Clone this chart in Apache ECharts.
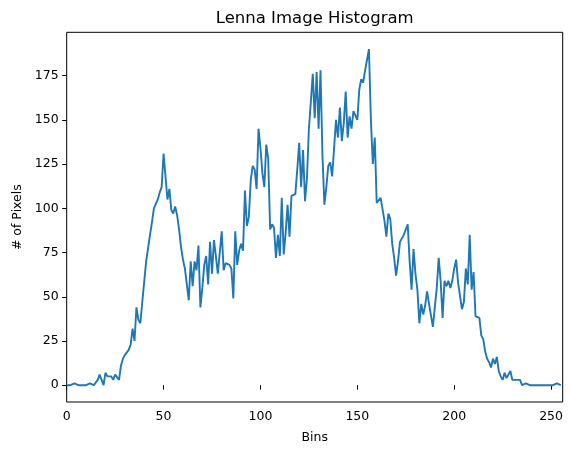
<!DOCTYPE html>
<html>
<head>
<meta charset="utf-8">
<script src="https://cdn.jsdelivr.net/npm/echarts@6/dist/echarts.min.js"></script>
<style>
html,body{margin:0;padding:0;background:#fff;}
#c{width:573px;height:455px;}
</style>
</head>
<body>
<div id="c"></div>
<script>
// Histogram counts for bins 0..255
const counts = [
  0,0,0,0,1,0,0,0,0,1,
  0,0,1,2,0,1,3,6,5,0,
  7,5,5,5,3,6,6,3,11,15,
  17,18,20,23,32,25,44,37,35,47,
  48,70,69,85,92,100,101,105,109,112,
  131,132,105,111,99,97,101,96,88,78,
  71,66,65,48,70,56,70,65,79,44,
  55,68,73,57,81,63,82,73,63,62,
  87,65,69,69,68,66,49,87,68,76,
  80,76,110,90,95,116,124,122,111,145,
  134,120,112,136,128,88,91,89,72,85,
  73,106,74,86,102,84,107,106,108,122,
  137,112,133,104,117,145,160,176,151,177,
  145,178,130,102,112,124,126,118,117,150,
  140,157,138,148,166,140,152,145,155,154,
  150,167,173,171,178,184,190,150,125,140,
  103,102,106,105,93,84,97,94,80,72,
  62,70,81,83,85,86,91,70,54,77,
  63,54,35,46,40,45,53,46,45,33,
  44,55,72,59,38,59,56,59,55,59,
  66,71,58,58,43,47,66,57,85,54,
  64,39,39,38,28,26,19,15,13,10,
  15,12,16,8,5,3,7,4,5,8,
  3,3,3,2,3,0,1,1,2,0,
  0,0,0,0,0,0,0,0,0,0,
  0,0,0,1,0,0
];
const xTicks = [0, 50, 100, 150, 200, 250];
const yTicks = [0, 25, 50, 75, 100, 125, 150, 175];
const titleText = 'Lenna Image Histogram';
const xName = 'Bins';
const yName = '# of Pixels';

const seriesData = counts.map((v, i) => [i, v]);
const FONT = 'DejaVu Sans';

const chart = echarts.init(document.getElementById('c'), null, {renderer: 'canvas'});
const gridL = 66.7, gridR = 10.3, gridT = 32.3, gridB = 53;
chart.setOption({
  animation: false,
  backgroundColor: '#fff',
  grid: {left: gridL, right: gridR, top: gridT, bottom: gridB, show: true,
         borderColor: '#000', borderWidth: 1, backgroundColor: 'transparent', containLabel: false},
  graphic: [{
    type: 'text',
    x: gridL + (573 - gridL - gridR) / 2,
    y: 18.5,
    style: {text: titleText, fontFamily: FONT, fontSize: 16.5, fill: '#000',
            textAlign: 'center', textVerticalAlign: 'middle'}
  }],
  xAxis: {
    type: 'value', min: 0, max: 256,
    axisLine: {show: false},
    splitLine: {show: false},
    axisTick: {show: true, inside: false, length: 4.5, customValues: xTicks,
               lineStyle: {color: '#000', width: 1}},
    axisLabel: {customValues: xTicks, color: '#000', fontFamily: FONT, fontSize: 12.5, margin: 8},
    name: xName, nameLocation: 'middle', nameGap: 29,
    nameTextStyle: {color: '#000', fontFamily: FONT, fontSize: 12.5}
  },
  yAxis: {
    type: 'value', min: -9.5, max: 199.5,
    axisLine: {show: false},
    splitLine: {show: false},
    axisTick: {show: true, inside: false, length: 4.5, customValues: yTicks,
               lineStyle: {color: '#000', width: 1}},
    axisLabel: {customValues: yTicks, color: '#000', fontFamily: FONT, fontSize: 12.5, margin: 8},
    name: yName, nameLocation: 'middle', nameGap: 42, nameRotate: 90,
    nameTextStyle: {color: '#000', fontFamily: FONT, fontSize: 12.5}
  },
  series: [{
    type: 'line',
    data: seriesData,
    showSymbol: false,
    symbol: 'none',
    lineStyle: {color: '#1f77b4', width: 1.9},
    clip: true
  }]
});
</script>
</body>
</html>
